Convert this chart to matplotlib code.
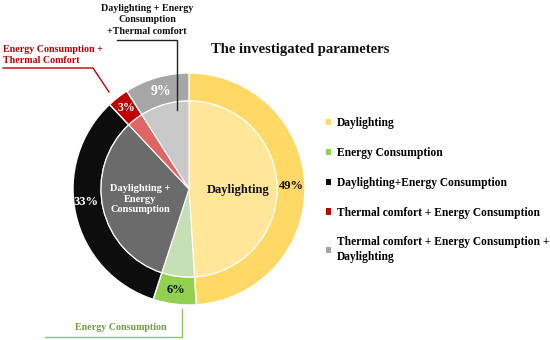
import matplotlib
matplotlib.use("Agg")
import matplotlib.pyplot as plt
from matplotlib.patches import Patch

categories = ["Daylighting", "Energy Consumption", "Daylighting+Energy Consumption",
              "Thermal comfort + Energy Consumption",
              "Thermal comfort + Energy Consumption +\nDaylighting"]
values = [49, 6, 33, 3, 9]
pct_labels = ["49%", "6%", "33%", "3%", "9%"]
outer_colors = ["#FFD966", "#92D050", "#0D0D0D", "#C00000", "#A6A6A6"]
inner_colors = ["#FFE699", "#C5E0B4", "#6B6B6B", "#E06666", "#C9C9C9"]
pct_colors = ["#111111", "#111111", "#FFFFFF", "#FFFFFF", "#FFFFFF"]
pct_sizes = [9, 9, 9, 8.5, 10]

plt.rcParams['font.family'] = ['Liberation Serif', 'DejaVu Serif']
plt.rcParams['font.weight'] = 'bold'

W, H = 550, 340
fig = plt.figure(figsize=(5.5, 3.4), dpi=100)
ax = fig.add_axes([0, 0, 1, 1])

cx, cy = 189, H - 189
R_out, R_in = 116, 88

ax.pie(values, colors=outer_colors, radius=R_out, center=(cx, cy), startangle=90,
       counterclock=False, wedgeprops=dict(width=R_out - R_in, edgecolor='white', linewidth=1),
       labels=pct_labels, labeldistance=(R_out + R_in) / 2 / R_out,
       textprops=dict(fontsize=9, fontweight='bold', ha='center', va='center'),
       frame=True)
ax.pie(values, colors=inner_colors, radius=R_in, center=(cx, cy), startangle=90,
       counterclock=False, wedgeprops=dict(edgecolor='white', linewidth=0.8), frame=True)
ax.set_xlim(0, W)
ax.set_ylim(0, H)
ax.set_aspect('equal')
ax.axis('off')

for t, c, s in zip(ax.texts, pct_colors, pct_sizes):
    t.set_color(c)
    t.set_fontsize(s)
# nudge the 33% label as in the reference
ax.texts[2].set_position((86, H - 202))

# inner labels
ax.text(238, H - 190, "Daylighting", fontsize=9, fontweight='bold', color='#111111',
        ha='center', va='center')
ax.text(140, H - 199, "Daylighting +\nEnergy\nConsumption", fontsize=7.5, fontweight='bold',
        color='white', ha='center', va='center', linespacing=1.15)

# callouts
ax.text(147, H - 20, "Daylighting + Energy\nConsumption\n+Thermal comfort", fontsize=7.2,
        fontweight='bold', color='#111111', ha='center', va='center', linespacing=1.3)
ax.plot([117, 177, 177], [H - 40, H - 40, H - 110], color='#222222', lw=1)

ax.text(3, H - 55, "Energy Consumption +\nThermal Comfort", fontsize=7.2, fontweight='bold',
        color='#C00000', ha='left', va='center', linespacing=1.3)
ax.plot([3, 93, 109], [H - 68, H - 68, H - 92], color='#C00000', lw=1)

ax.text(121, H - 327, "Energy Consumption", fontsize=7.2, fontweight='bold',
        color='#6E9E3E', ha='center', va='center')
ax.plot([45, 182, 182], [H - 337, H - 337, H - 309], color='#8CC75A', lw=1)

# title
ax.text(300, H - 50, "The investigated parameters", fontsize=10.5, fontweight='bold',
        color='#111111', ha='center', va='center')

handles = [Patch(facecolor=c, edgecolor='none') for c in outer_colors]
leg = ax.legend(handles, categories, loc='upper left', bbox_to_anchor=(326 / W, 1 - 117 / H),
                frameon=False, prop=dict(size=8.3, weight='bold'), handlelength=0.45,
                handleheight=0.45, handletextpad=0.5, labelspacing=1.55, borderpad=0,
                borderaxespad=0)
for t in leg.get_texts():
    t.set_linespacing(1.25)

fig.savefig("out.png", dpi=100)
